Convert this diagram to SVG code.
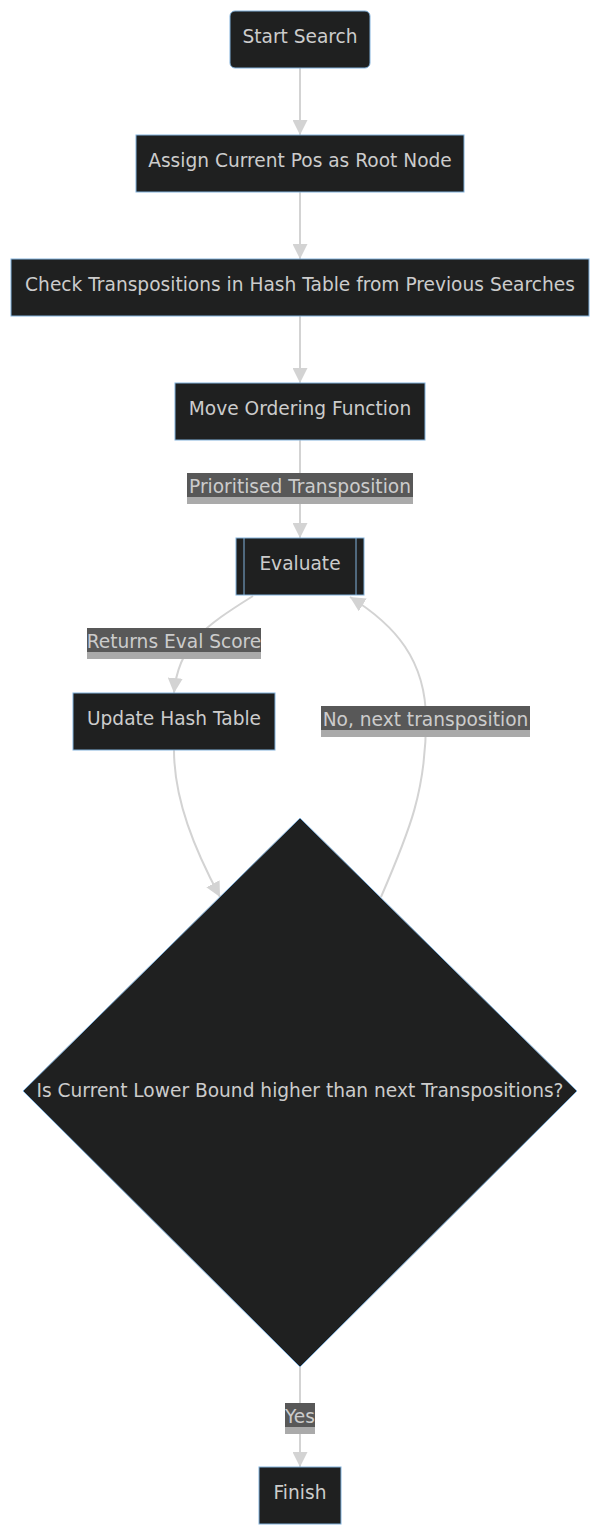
<svg xmlns="http://www.w3.org/2000/svg" width="600" height="1536" viewBox="0 0 600 1536">
<style>
.node rect, .node polygon { fill: #1f2020; stroke: #81b1db; stroke-width: 1; }
.node line { stroke: #81b1db; stroke-width: 1; }
text { font-family: "DejaVu Sans", Verdana, sans-serif; font-size: 18.6px; fill: #cccccc; text-anchor: middle; dominant-baseline: central; }
.edge { fill: none; stroke: #d3d3d3; stroke-width: 2; marker-end: url(#arr); }
.lbl-top { fill: #585858; }
.lbl-bot { fill: #aaaaaa; }
</style>
<defs>
<marker id="arr" viewBox="0 0 10 10" refX="10" refY="5" markerWidth="15" markerHeight="15" markerUnits="userSpaceOnUse" orient="auto">
<path d="M0,0 L10,5 L0,10 z" fill="#d3d3d3"/>
</marker>
</defs>
<g id="connectors">
<path class="edge" d="M300,68 L300,135"/>
<path class="edge" d="M300,192 L300,259"/>
<path class="edge" d="M300,316 L300,383"/>
<path class="edge" d="M300,440 L300,538"/>
<path class="edge" d="M253,596 C205,626 178,645 174,693"/>
<path class="edge" d="M174,750 C174,800 195,850 220,897"/>
<path class="edge" d="M381,897 C410,830 426,790 426,720 C426,660 395,625 350,597"/>
<path class="edge" d="M300,1367 L300,1467"/>
<g id="label-prioritised">
<rect class="lbl-bot" x="187" y="473" width="226" height="31"/>
<rect class="lbl-top" x="187" y="473" width="226" height="24"/>
<text x="300" y="486">Prioritised Transposition</text>
</g>
<g id="label-returns">
<rect class="lbl-bot" x="87" y="628" width="174" height="31"/>
<rect class="lbl-top" x="87" y="628" width="174" height="24"/>
<text x="174" y="641">Returns Eval Score</text>
</g>
<g id="label-no">
<rect class="lbl-bot" x="321" y="706" width="209" height="31"/>
<rect class="lbl-top" x="321" y="706" width="209" height="24"/>
<text x="425.5" y="719">No, next transposition</text>
</g>
<g id="label-yes">
<rect class="lbl-bot" x="285" y="1403" width="30" height="31"/>
<rect class="lbl-top" x="285" y="1403" width="30" height="24"/>
<text x="300" y="1416">Yes</text>
</g>
</g>
<g id="start" class="node">
<rect x="230" y="11" width="140" height="57" rx="5" ry="5"/>
<text x="300" y="36">Start Search</text>
</g>
<g id="assign" class="node">
<rect x="136" y="135" width="328" height="57"/>
<text x="300" y="160">Assign Current Pos as Root Node</text>
</g>
<g id="check" class="node">
<rect x="11" y="259" width="578" height="57"/>
<text x="300" y="284">Check Transpositions in Hash Table from Previous Searches</text>
</g>
<g id="move" class="node">
<rect x="175" y="383" width="250" height="57"/>
<text x="300" y="408">Move Ordering Function</text>
</g>
<g id="evaluate" class="node">
<rect x="236" y="538" width="128" height="57"/>
<line x1="244" y1="538" x2="244" y2="595"/>
<line x1="356" y1="538" x2="356" y2="595"/>
<text x="300" y="563">Evaluate</text>
</g>
<g id="update" class="node">
<rect x="73" y="693" width="202" height="57"/>
<text x="174" y="718">Update Hash Table</text>
</g>
<g id="decision" class="node">
<polygon points="300,818 577,1091 300,1367 23,1091"/>
<text x="300" y="1090">Is Current Lower Bound higher than next Transpositions?</text>
</g>
<g id="finish" class="node">
<rect x="259" y="1467" width="82" height="57"/>
<text x="300" y="1492">Finish</text>
</g>
</svg>
